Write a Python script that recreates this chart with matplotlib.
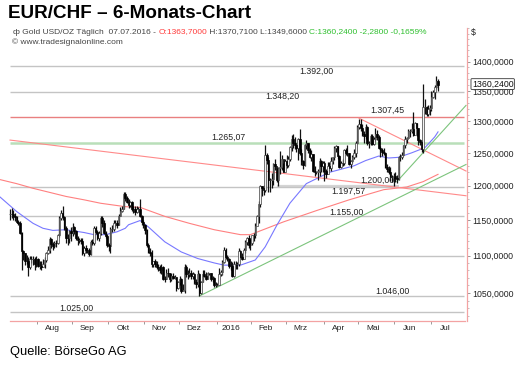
import numpy as np
import pandas as pd
import matplotlib
matplotlib.use("Agg")
import matplotlib.pyplot as plt
from matplotlib.ticker import FixedLocator, MultipleLocator, FuncFormatter, NullFormatter

plt.rcParams['font.family'] = ['Liberation Sans', 'DejaVu Sans']

# Gold USD/OZ, daily bars 09.07.2015 - 07.07.2016 (one row per month)
close = [
    1159, 1158, 1155, 1154, 1147, 1146, 1132, 1106, 1103, 1092, 1093, 1085, 1096, 1095, 1096, 1089, 1095,
    1086, 1086, 1085, 1089, 1094, 1104, 1108, 1123, 1116, 1113, 1118, 1117, 1128, 1153, 1160, 1154, 1138, 1125, 1124, 1134, 1132,
    1140, 1134, 1124, 1121, 1121, 1120, 1103, 1110, 1108, 1108, 1102, 1119, 1117, 1138, 1133, 1124, 1131, 1153, 1145, 1132, 1127, 1115,
    1113, 1137, 1137, 1146, 1146, 1143, 1156, 1163, 1166, 1187, 1182, 1176, 1171, 1176, 1166, 1166, 1162, 1166, 1166, 1156, 1147, 1142,
    1135, 1115, 1105, 1104, 1088, 1092, 1089, 1085, 1084, 1081, 1085, 1069, 1068, 1077, 1076, 1068, 1073, 1070, 1071, 1056, 1065,
    1068, 1053, 1054, 1084, 1075, 1075, 1076, 1072, 1075, 1064, 1062, 1075, 1050, 1065, 1075, 1072, 1069, 1076, 1076, 1068, 1070, 1060, 1061,
    1061, 1075, 1078, 1091, 1108, 1098, 1096, 1086, 1086, 1073, 1089, 1089, 1089, 1106, 1098, 1096, 1107, 1119, 1125, 1115, 1117,
    1128, 1128, 1141, 1156, 1173, 1199, 1197, 1194, 1247, 1239, 1208, 1209, 1210, 1232, 1230, 1209, 1226, 1228, 1240, 1221, 1238,
    1231, 1241, 1259, 1271, 1265, 1263, 1257, 1272, 1250, 1238, 1231, 1262, 1266, 1254, 1244, 1248, 1222, 1220, 1220, 1222, 1237, 1229, 1234,
    1222, 1218, 1230, 1226, 1238, 1243, 1258, 1261, 1245, 1228, 1235, 1234, 1254, 1250, 1250, 1232, 1238, 1243, 1250, 1266, 1291,
    1295, 1290, 1279, 1276, 1291, 1265, 1265, 1277, 1264, 1272, 1280, 1275, 1257, 1254, 1252, 1250, 1228, 1225, 1221, 1213, 1213, 1215,
    1211, 1210, 1243, 1243, 1246, 1262, 1272, 1274, 1284, 1285, 1288, 1278, 1298, 1289, 1270, 1267, 1256, 1323, 1324, 1312, 1320, 1322,
    1340, 1348, 1357, 1366, 1360.24,
]
high = [
    1166, 1167, 1164, 1160, 1155, 1150, 1148, 1133, 1108, 1104, 1101, 1098, 1099, 1100, 1099, 1098, 1099,
    1097, 1092, 1093, 1095, 1098, 1105, 1113, 1126, 1125, 1119, 1120, 1121, 1130, 1156, 1164, 1170, 1155, 1141, 1130, 1136, 1140,
    1146, 1141, 1136, 1127, 1124, 1124, 1124, 1113, 1114, 1111, 1110, 1121, 1123, 1141, 1141, 1136, 1134, 1156, 1156, 1150, 1134, 1130,
    1118, 1140, 1142, 1150, 1150, 1150, 1159, 1168, 1170, 1191, 1191, 1185, 1180, 1178, 1178, 1170, 1170, 1170, 1168, 1180, 1157, 1150,
    1144, 1137, 1117, 1110, 1108, 1093, 1095, 1093, 1089, 1087, 1089, 1086, 1072, 1082, 1083, 1077, 1077, 1077, 1074, 1071, 1066,
    1072, 1070, 1062, 1088, 1087, 1080, 1083, 1080, 1078, 1077, 1068, 1080, 1077, 1066, 1081, 1080, 1078, 1078, 1077, 1077, 1072, 1071, 1064,
    1063, 1083, 1081, 1094, 1112, 1110, 1101, 1097, 1092, 1091, 1092, 1093, 1091, 1111, 1107, 1103, 1110, 1121, 1126, 1128, 1123,
    1129, 1132, 1146, 1157, 1178, 1201, 1200, 1201, 1263, 1250, 1244, 1211, 1219, 1234, 1241, 1227, 1228, 1253, 1246, 1234, 1240,
    1246, 1245, 1261, 1278, 1280, 1275, 1263, 1274, 1287, 1256, 1239, 1264, 1270, 1266, 1258, 1254, 1248, 1230, 1222, 1225, 1242, 1239, 1238,
    1237, 1225, 1236, 1236, 1243, 1244, 1260, 1262, 1261, 1246, 1237, 1240, 1256, 1258, 1263, 1250, 1239, 1246, 1256, 1269, 1294,
    1304, 1303, 1295, 1284, 1295, 1292, 1269, 1279, 1280, 1275, 1289, 1286, 1278, 1260, 1258, 1257, 1251, 1232, 1229, 1228, 1216, 1219,
    1221, 1216, 1245, 1248, 1252, 1263, 1276, 1275, 1287, 1287, 1297, 1315, 1299, 1298, 1290, 1272, 1270, 1362, 1336, 1325, 1327, 1326,
    1350, 1351, 1360, 1375, 1370.71,
]
low = [
    1150, 1152, 1150, 1148, 1145, 1143, 1130, 1080, 1094, 1087, 1088, 1072, 1082, 1090, 1087, 1080, 1085,
    1084, 1082, 1080, 1084, 1083, 1091, 1102, 1104, 1111, 1108, 1111, 1112, 1116, 1126, 1150, 1150, 1135, 1117, 1114, 1118, 1120,
    1127, 1130, 1122, 1115, 1118, 1116, 1101, 1099, 1104, 1103, 1100, 1101, 1114, 1115, 1130, 1121, 1120, 1128, 1140, 1130, 1124, 1112,
    1106, 1104, 1133, 1134, 1140, 1138, 1142, 1155, 1161, 1165, 1178, 1175, 1167, 1168, 1163, 1160, 1157, 1160, 1162, 1154, 1143, 1138,
    1130, 1112, 1103, 1099, 1084, 1085, 1085, 1082, 1079, 1077, 1075, 1067, 1064, 1068, 1071, 1065, 1066, 1068, 1068, 1052, 1055,
    1060, 1050, 1052, 1050, 1071, 1069, 1071, 1068, 1068, 1062, 1056, 1058, 1046, 1049, 1064, 1071, 1067, 1068, 1074, 1066, 1064, 1058, 1058,
    1059, 1061, 1072, 1074, 1090, 1096, 1092, 1083, 1081, 1071, 1071, 1082, 1082, 1086, 1097, 1094, 1096, 1104, 1114, 1110, 1107,
    1114, 1120, 1125, 1142, 1145, 1168, 1184, 1186, 1191, 1233, 1191, 1191, 1196, 1201, 1224, 1206, 1200, 1218, 1223, 1221, 1220,
    1226, 1228, 1238, 1253, 1258, 1256, 1251, 1239, 1247, 1231, 1225, 1230, 1256, 1250, 1242, 1238, 1220, 1215, 1218, 1209, 1215, 1220, 1221,
    1207, 1211, 1217, 1222, 1222, 1233, 1239, 1251, 1241, 1226, 1226, 1230, 1231, 1247, 1245, 1231, 1227, 1234, 1240, 1244, 1264,
    1288, 1285, 1276, 1266, 1271, 1263, 1257, 1262, 1263, 1263, 1269, 1270, 1256, 1243, 1245, 1246, 1227, 1221, 1217, 1207, 1205, 1199,
    1206, 1204, 1209, 1237, 1240, 1245, 1258, 1266, 1274, 1275, 1281, 1276, 1280, 1277, 1262, 1262, 1251, 1250, 1312, 1309, 1309, 1310,
    1317, 1338, 1336, 1353, 1349.60,
]

# moving averages
ma_blue_dates = ["2015-07-01", "2015-07-15", "2015-07-29", "2015-08-06", "2015-08-14", "2015-08-26",
                 "2015-09-10", "2015-09-18", "2015-09-29", "2015-10-08", "2015-10-15", "2015-10-19",
                 "2015-10-28", "2015-11-04", "2015-11-18", "2015-12-02", "2015-12-16", "2015-12-30",
                 "2016-01-07", "2016-01-21", "2016-02-03", "2016-02-11", "2016-02-22", "2016-03-03",
                 "2016-03-17", "2016-04-06", "2016-04-27", "2016-05-06", "2016-05-18", "2016-05-26",
                 "2016-06-03", "2016-06-15", "2016-06-27", "2016-07-05", "2016-07-07"]
ma_blue = [1183, 1162, 1145, 1138, 1135, 1136,
           1132, 1129, 1129, 1133, 1138, 1143,
           1149, 1140, 1119, 1105, 1096, 1090,
           1087, 1087, 1094, 1112, 1142, 1174,
           1203, 1220, 1230, 1238, 1245, 1242,
           1243, 1250, 1258, 1275, 1283]
ma_red_dates = ["2015-07-01", "2015-07-15", "2015-07-29", "2015-08-12", "2015-08-26", "2015-09-10",
                "2015-09-24", "2015-10-15", "2015-10-28", "2015-11-18", "2015-12-09", "2015-12-30",
                "2016-01-21", "2016-01-29", "2016-02-26", "2016-03-28", "2016-04-22", "2016-05-23",
                "2016-06-10", "2016-06-24", "2016-07-07"]
ma_red = [1209, 1203, 1196, 1190, 1184, 1179,
          1174, 1169, 1168, 1155, 1145, 1136,
          1129, 1129, 1147, 1164, 1179, 1194,
          1198, 1206, 1217]

# horizontal levels
level_values = [1392.00, 1348.20, 1307.45, 1265.07, 1200.00, 1197.57, 1155.00, 1100.00, 1046.00, 1025.00]
level_labels = ["1.392,00", "1.348,20", "1.307,45", "1.265,07", "1.200,00", "1.197,57", "1.155,00", "", "1.046,00", "1.025,00"]
level_from = ["2015-07-09"] * 4 + ["2016-02-22", "2015-07-09", "2015-07-09", "2015-09-14", "2015-07-09", "2015-07-09"]
level_to = ["2016-07-29"] * 4 + ["2016-06-03"] + ["2016-07-29"] * 5

# trend lines (start date, start value, end date, end value)
trend_from = ["2015-07-09", "2016-05-02", "2015-12-17", "2016-06-02"]
trend_from_val = [1270, 1305, 1046, 1206]
trend_to = ["2016-08-01", "2016-08-01", "2016-08-01", "2016-08-01"]
trend_to_val = [1185, 1222, 1232, 1326]

months = ["Aug", "Sep", "Okt", "Nov", "Dez", "2016", "Feb", "Mrz", "Apr", "Mai", "Jun", "Jul"]
price_ticks = [1050, 1100, 1150, 1200, 1250, 1300, 1350, 1400]

# ---- styles / layout
level_colors = ['#c4c4c4', '#c4c4c4', '#e98080', '#b9dfb9', '#d4d4d4', '#c4c4c4', '#c4c4c4', '#c4c4c4', '#c4c4c4', '#c4c4c4']
level_widths = [1.0, 1.0, 1.0, 1.8, 1.6, 1.0, 1.0, 1.0, 1.0, 1.0]
label_x = [182, 161, 225, 128, 219, 201, 200, 0, 228, 36]
label_dy = [-3.6, -2.9, 4.8, 4.1, 4.0, -2.6, 2.9, 0, 3.1, 2.9]
trend_colors = ['#ff8a8a', '#ff8a8a', '#7cc47c', '#7cc47c']
PINK = '#f3a3a3'

axis_days = pd.bdate_range("2015-07-01", "2016-08-01")


def pos(dates):
    return axis_days.get_indexer(pd.to_datetime(dates))


bar_days = pd.bdate_range("2015-07-09", periods=len(close))
x = pos(bar_days)
c = np.array(close, float)
o = np.r_[c[0], c[:-1]]
h = np.array(high, float)
l = np.array(low, float)

fig = plt.figure(figsize=(5.25, 3.67), dpi=100)
ax = fig.add_axes([0, 1 - 320.7 / 367, 467 / 525, (320.7 - 28) / 367])
ax.set_yscale('log')

# level lines and labels
ax.hlines(level_values, pos(level_from), pos(level_to), colors=level_colors, linewidths=level_widths, zorder=1)
for v, txt, lx, dy in zip(level_values, level_labels, label_x, label_dy):
    if txt:
        ax.annotate(txt, xy=(lx, v), xytext=(0, dy), textcoords='offset points',
                    ha='left', va='center', fontsize=6.3, color='#222222', zorder=5)

# moving averages
ax.plot(pos(ma_red_dates), ma_red, color='#ff8080', lw=0.8, zorder=2)
ax.plot(pos(ma_blue_dates), ma_blue, color='#7878ff', lw=0.8, zorder=2)

# trend lines
for f, fv, t, tv, col in zip(trend_from, trend_from_val, trend_to, trend_to_val, trend_colors):
    ax.plot(pos([f, t]), [fv, tv], color=col, lw=0.8, zorder=2)

# candles
ax.vlines(x, l, h, color='#111111', lw=0.9, zorder=3)
up = c >= o
ax.bar(x[up], (c - o)[up], bottom=o[up], width=0.95, color='#f4f4f4', edgecolor='#444444', lw=0.5, zorder=4)
ax.bar(x[~up], (o - c)[~up], bottom=c[~up], width=0.95, color='#000000', edgecolor='#000000', lw=0.5, zorder=4)

ax.set_xlim(-0.1, 283.6)
ax.set_ylim(1014.4, 1460)

# axes styling
for s in ['top', 'left']:
    ax.spines[s].set_visible(False)
ax.spines['right'].set_color(PINK)
ax.spines['bottom'].set_color(PINK)
ax.spines['right'].set_linewidth(0.9)
ax.spines['bottom'].set_linewidth(0.9)
ax.spines['bottom'].set_bounds(6, 282.5)

ax.yaxis.tick_right()
ax.yaxis.set_major_locator(FixedLocator(price_ticks))
ax.yaxis.set_minor_locator(MultipleLocator(10))
ax.yaxis.set_major_formatter(FuncFormatter(lambda v, p: f"{v:.4f}".replace('.', ',')))
ax.yaxis.set_minor_formatter(NullFormatter())
ax.tick_params(axis='y', which='major', length=2.5, width=0.6, color='#888888', labelsize=6.3,
               labelcolor='#222222', pad=1.5)
ax.tick_params(axis='y', which='minor', length=1.5, width=0.5, color='#aaaaaa')

# month ticks: first business day of each month
month_starts = np.array([axis_days.searchsorted(pd.Timestamp(f"{y}-{m:02d}-01")) for y, m in
                         [(2015, 8), (2015, 9), (2015, 10), (2015, 11), (2015, 12), (2016, 1),
                          (2016, 2), (2016, 3), (2016, 4), (2016, 5), (2016, 6), (2016, 7)]])
ax.set_xticks(month_starts - 0.5)
ax.set_xticklabels([])
ax.set_xticks(month_starts + 8.5, minor=True)
ax.set_xticklabels(months, minor=True)
ax.tick_params(axis='x', which='major', length=2, width=0.6, color='#888888')
ax.tick_params(axis='x', which='minor', length=0, labelsize=6, labelcolor='#222222', pad=3)

# last price tag
ax.annotate("1360,2400", xy=(1, 1360.24), xycoords=('axes fraction', 'data'), xytext=(3.5, 0.6),
            textcoords='offset points', ha='left', va='center', fontsize=6.3, color='#111111',
            bbox=dict(boxstyle='round,pad=0.1', fc='white', ec='#333333', lw=0.6),
            annotation_clip=False, zorder=10)

# header texts
fig.text(8 / 525, 1 - 13 / 367, "EUR/CHF – 6-Monats-Chart", fontsize=13.6, weight='bold',
         va='center', ha='left')
fig.text(10 / 525, 1 - 352 / 367, "Quelle: BörseGo AG", fontsize=9.3, va='center', ha='left')
fig.text(471 / 525, 1 - 33 / 367, "$", fontsize=6.3, va='center', ha='left', color='#222222')

seg = fig.text(13 / 525, 1 - 32 / 367, "ф Gold USD/OZ Täglich  07.07.2016 - ", fontsize=6,
               va='center', ha='left', color='#444444')
parts = [("O:1363,7000", '#ff3b3b'), (" H:1370,7100 L:1349,6000 ", '#444444'),
         ("C:1360,2400 -2,2800 -0,1659%", '#2fbf2f')]
for txt, col in parts:
    seg = ax.annotate(txt, xy=(1, 0), xycoords=seg, ha='left', va='bottom', fontsize=6,
                      color=col, annotation_clip=False)
fig.text(12 / 525, 1 - 42 / 367, "© www.tradesignalonline.com", fontsize=6, va='center', ha='left',
         color='#444444')

fig.savefig("out.png", dpi=100)
